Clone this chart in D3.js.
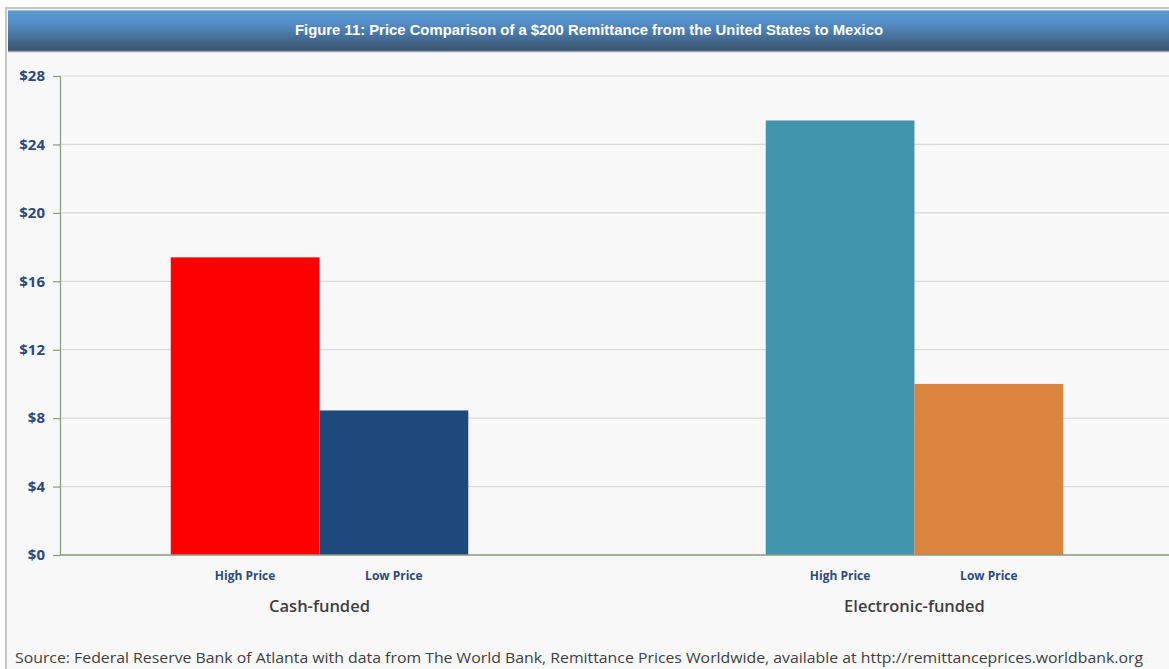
<!DOCTYPE html>
<html>
<head>
<meta charset="utf-8">
<script src="https://cdn.jsdelivr.net/npm/d3@7/dist/d3.min.js"></script>
<style>
  html, body { margin: 0; padding: 0; background: #ffffff; }
  svg { display: block; }
</style>
</head>
<body>
<svg id="chart" width="1169" height="669"></svg>
<script>
// Price of sending $200 from the United States to Mexico
const groups = ["Cash-funded", "Electronic-funded"];
const priceTypes = ["High Price", "Low Price"];
const cashFunded = [17.4, 8.45];
const electronicFunded = [25.4, 10.0];
const yTicks = [0, 4, 8, 12, 16, 20, 24, 28];
const barColors = [["#ff0000", "#1f497d"], ["#4196ae", "#db843d"]];
const titleText = "Figure 11: Price Comparison of a $200 Remittance from the United States to Mexico";
const sourceText = "Source: Federal Reserve  Bank of Atlanta with data from The World Bank, Remittance Prices Worldwide, available at http://remittanceprices.worldbank.org";

const seriesByGroup = [cashFunded, electronicFunded];
const rows = groups.map((g, i) => ({
  group: g,
  bars: priceTypes.map((p, j) => ({ type: p, value: seriesByGroup[i][j], color: barColors[i][j] }))
}));

const svg = d3.select("#chart");
const W = 1169, H = 669;

// Panel frame and background
svg.append("rect").attr("x", 6).attr("y", 8).attr("width", W).attr("height", H)
  .attr("fill", "#f8f8f9").attr("stroke", "#c6c6c6").attr("stroke-width", 2);

// Title bar gradient
const defs = svg.append("defs");
const grad = defs.append("linearGradient").attr("id", "titleGrad")
  .attr("x1", 0).attr("y1", 0).attr("x2", 0).attr("y2", 1);
grad.append("stop").attr("offset", "0%").attr("stop-color", "#5c9ad3");
grad.append("stop").attr("offset", "35%").attr("stop-color", "#528cc2");
grad.append("stop").attr("offset", "100%").attr("stop-color", "#3b526d");

svg.append("rect").attr("x", 8).attr("y", 10).attr("width", W).attr("height", 41)
  .attr("fill", "url(#titleGrad)");
svg.append("line").attr("x1", 8).attr("x2", W).attr("y1", 10.5).attr("y2", 10.5)
  .attr("stroke", "#9dbde0").attr("stroke-width", 1);
svg.append("line").attr("x1", 8).attr("x2", W).attr("y1", 51.5).attr("y2", 51.5)
  .attr("stroke", "#9aa3ad").attr("stroke-width", 1.5);

svg.append("text")
  .attr("x", 589).attr("y", 35)
  .attr("text-anchor", "middle")
  .attr("fill", "#ffffff")
  .attr("font-family", "'Liberation Sans Narrow', 'Arial Narrow', 'Liberation Sans', sans-serif")
  .attr("font-weight", "bold")
  .attr("font-size", 14.5)
  .attr("textLength", 588)
  .attr("lengthAdjust", "spacingAndGlyphs")
  .text(titleText);

// Scales
const plotLeft = 60, plotRight = W, yBottom = 555, yTop = 76;
const y = d3.scaleLinear().domain([0, 28]).range([yBottom, yTop]);
const x0 = d3.scaleBand().domain(groups).range([22, 1212]).paddingInner(0.5).paddingOuter(0.25);
const x1 = d3.scaleBand().domain(priceTypes).range([0, x0.bandwidth()]);

// Gridlines
svg.append("g")
  .selectAll("line")
  .data(yTicks.filter(t => t > 0))
  .join("line")
  .attr("x1", plotLeft).attr("x2", plotRight)
  .attr("y1", d => y(d)).attr("y2", d => y(d))
  .attr("stroke", "#d9d9d9").attr("stroke-width", 1.2);

// Bars
const gGroups = svg.append("g")
  .selectAll("g")
  .data(rows)
  .join("g")
  .attr("transform", d => `translate(${x0(d.group)},0)`);

gGroups.selectAll("rect")
  .data(d => d.bars)
  .join("rect")
  .attr("x", d => x1(d.type))
  .attr("width", x1.bandwidth())
  .attr("y", d => y(d.value))
  .attr("height", d => y(0) - y(d.value))
  .attr("fill", d => d.color);

// Price type labels under each bar
gGroups.selectAll("text.ptype")
  .data(d => d.bars)
  .join("text")
  .attr("class", "ptype")
  .attr("x", d => x1(d.type) + x1.bandwidth() / 2)
  .attr("y", 580)
  .attr("text-anchor", "middle")
  .attr("fill", "#2f4a78")
  .attr("font-family", "'Open Sans', 'Noto Sans', sans-serif")
  .attr("font-weight", "bold")
  .attr("font-size", 12)
  .text(d => d.type);

// Group labels
gGroups.append("text")
  .attr("x", x0.bandwidth() / 2)
  .attr("y", 612)
  .attr("text-anchor", "middle")
  .attr("fill", "#404040")
  .attr("font-family", "'Open Sans', 'Noto Sans', sans-serif")
  .attr("font-weight", 600)
  .attr("font-size", 16.5)
  .text(d => d.group);

// Y axis
const yAxis = svg.append("g")
  .attr("transform", `translate(${plotLeft},0)`)
  .call(d3.axisLeft(y).tickValues(yTicks).tickSize(7).tickPadding(8).tickFormat(d => "$" + d));
yAxis.select(".domain").attr("stroke", "#8c9a7c").attr("stroke-width", 1.2);
yAxis.selectAll(".tick line").attr("stroke", "#8c9a7c").attr("stroke-width", 1.2);
yAxis.selectAll(".tick text")
  .attr("fill", "#2f4a78")
  .attr("font-family", "'Open Sans', 'Noto Sans', sans-serif")
  .attr("font-weight", "bold")
  .attr("font-size", 15);

// X baseline
svg.append("line")
  .attr("x1", plotLeft).attr("x2", plotRight)
  .attr("y1", y(0)).attr("y2", y(0))
  .attr("stroke", "#8c9a7c").attr("stroke-width", 1.5);

// Source note
svg.append("text")
  .attr("x", 15).attr("y", 663)
  .attr("fill", "#404040")
  .attr("font-family", "'Open Sans', 'Noto Sans', sans-serif")
  .attr("font-size", 14.5)
  .attr("textLength", 1128)
  .attr("lengthAdjust", "spacingAndGlyphs")
  .text(sourceText);
</script>
</body>
</html>
